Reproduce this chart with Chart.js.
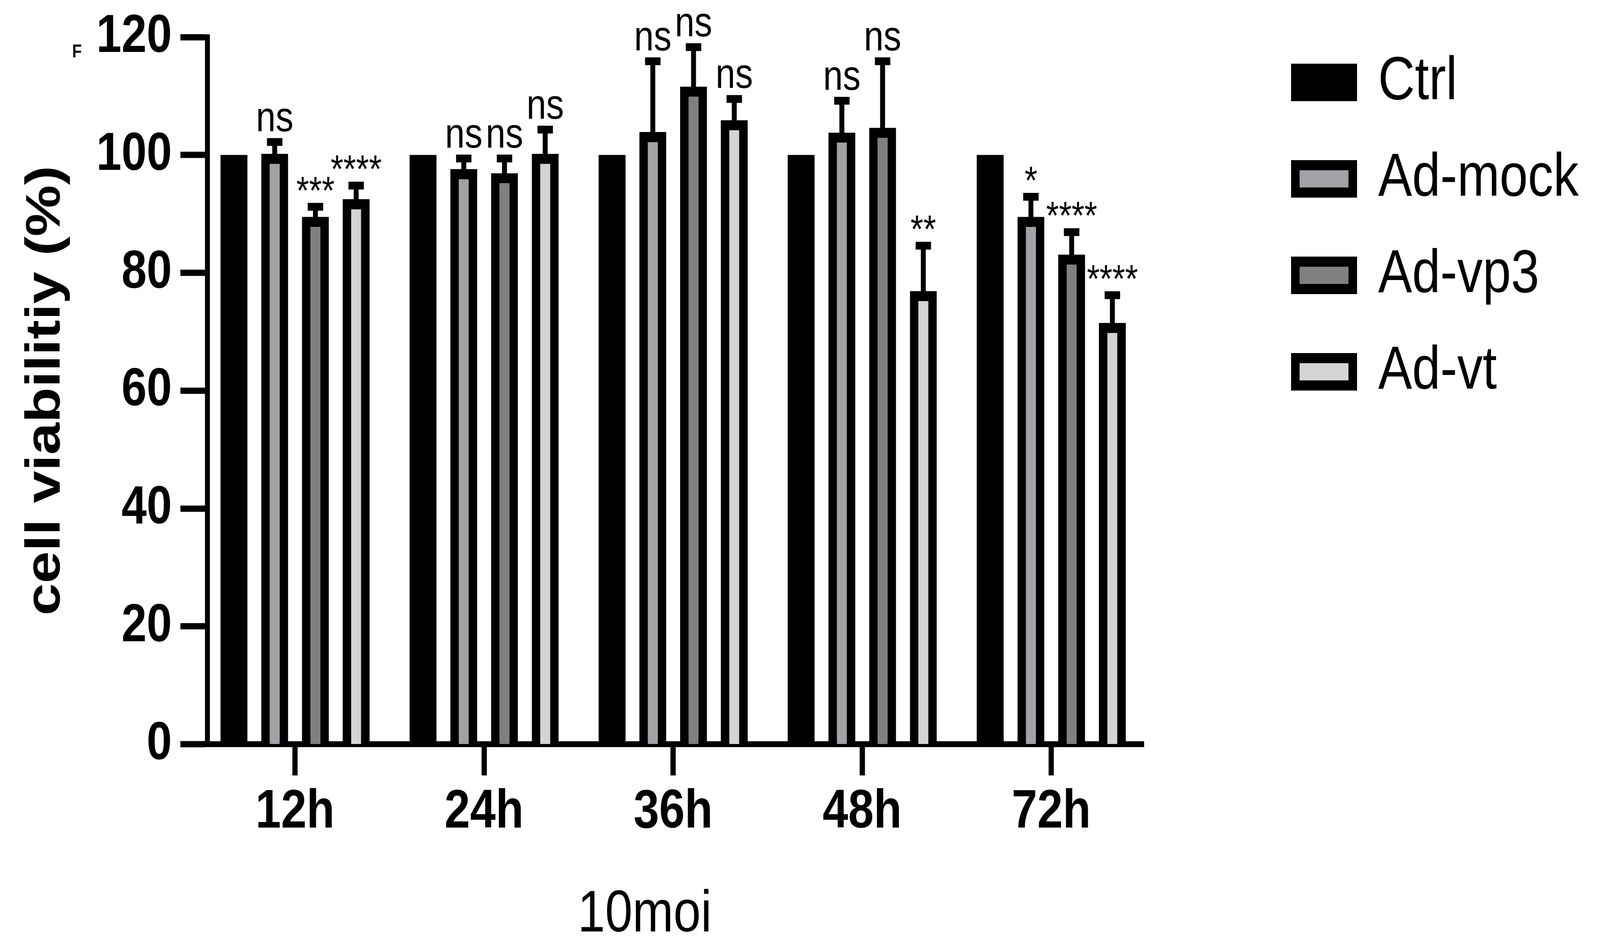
<!DOCTYPE html>
<html><head><meta charset="utf-8">
<script src="https://cdn.jsdelivr.net/npm/chart.js@4.4.1/dist/chart.umd.min.js"></script>
<style>
html,body{margin:0;padding:0;background:#fff;overflow:hidden}
#wrap{position:relative;overflow:hidden}
#c{position:absolute;left:0;top:0;transform-origin:0 0}
</style>
</head><body><div id="wrap"><canvas id="c" width="4879" height="2412"></canvas></div>
<script>
// ---- data ----
const categories = ['12h', '24h', '36h', '48h', '72h'];
const seriesNames = ['Ctrl', 'Ad-mock', 'Ad-vp3', 'Ad-vt'];
const ctrlValues = [100, 100, 100, 100, 100];
const mockValues = [100.2, 97.6, 103.9, 103.8, 89.5];
const vp3Values  = [89.5, 96.9, 111.6, 104.6, 83.1];
const vtValues   = [92.5, 100.2, 105.9, 76.9, 71.5];
const ctrlErr = [0, 0, 0, 0, 0];
const mockErr = [2.0, 1.8, 12.0, 5.4, 3.4];
const vp3Err  = [1.7, 2.5, 6.7, 11.3, 3.8];
const vtErr   = [2.3, 4.1, 3.6, 7.7, 4.7];
const ctrlSig = ['', '', '', '', ''];
const mockSig = ['ns', 'ns', 'ns', 'ns', '*'];
const vp3Sig  = ['***', 'ns', 'ns', 'ns', '****'];
const vtSig   = ['****', 'ns', 'ns', '**', '****'];
const yTickValues = [0, 20, 40, 60, 80, 100, 120];
const yAxisTitle = 'cell viabilitiy (%)';
const xAxisTitle = '10moi';
const panelLetter = 'F';

const valueSets = [ctrlValues, mockValues, vp3Values, vtValues];
const errSets = [ctrlErr, mockErr, vp3Err, vtErr];
const sigSets = [ctrlSig, mockSig, vp3Sig, vtSig];
const fills = ['#000000', '#a2a1a6', '#808080', '#d4d4d4'];
const borderWidths = [0, 26, 26, 26];

// design size 4879 x 2412; fit the canvas to the real viewport
const DW = 4879, DH = 2412;
const VW = window.innerWidth || DW, VH = window.innerHeight || DH;
const wrap = document.getElementById('wrap');
wrap.style.width = VW + 'px'; wrap.style.height = VH + 'px';
const cv = document.getElementById('c');
cv.style.width = DW + 'px'; cv.style.height = DH + 'px';
cv.style.transform = 'scale(' + (VW / DW) + ',' + (VH / DH) + ')';

const FAMILY = '"Liberation Sans", Arial, Helvetica, sans-serif';
Chart.defaults.font.family = FAMILY;
Chart.defaults.color = '#000';

const datasets = seriesNames.map((name, di) => ({
  label: name,
  data: valueSets[di].map((v, i) => ({ x: i, y: v })),
  backgroundColor: fills[di],
  borderColor: '#000000',
  borderWidth: borderWidths[di],
  categoryPercentage: 0.8617,
  barPercentage: 0.66
}));

const legendFont = 155;
const legendPad = 92;

const overlay = {
  id: 'overlay',
  afterLayout(chart) {
    const lg = chart.legend;
    if (lg) {
      const w = lg.width, h = lg.height;
      lg.left = 3950 - legendPad; lg.right = lg.left + w;
      lg.top = 211 - legendFont / 2 - legendPad; lg.bottom = lg.top + h;
    }
  },
  afterDatasetsDraw(chart) {
    const ctx = chart.ctx;
    const ys = chart.scales.y;
    ctx.save();
    ctx.fillStyle = '#000';
    datasets.forEach((ds, di) => {
      const meta = chart.getDatasetMeta(di);
      meta.data.forEach((bar, i) => {
        const v = valueSets[di][i];
        const e = errSets[di][i];
        const base = ys.getPixelForValue(v);
        const top = ys.getPixelForValue(v + e);
        if (e > 0) {
          ctx.fillRect(bar.x - 7.5, top, 15, base - top + 2);
          ctx.fillRect(bar.x - 23.5, top - 10, 47, 20);
        }
        const s = sigSets[di][i];
        if (s) {
          ctx.textAlign = 'center';
          ctx.textBaseline = 'alphabetic';
          if (s.indexOf('*') >= 0) {
            ctx.font = '100px ' + FAMILY;
            ctx.fillText(s, bar.x, top - 8);
          } else {
            ctx.font = '108px ' + FAMILY;
            ctx.fillText(s, bar.x, top - 28);
          }
        }
      });
    });
    ctx.textAlign = 'center';
    ctx.textBaseline = 'alphabetic';
    ctx.font = '150px ' + FAMILY;
    ctx.fillText(xAxisTitle, 1966, 2385);
    ctx.textAlign = 'left';
    ctx.font = 'bold 48px ' + FAMILY;
    ctx.fillText(panelLetter, 220, 147);
    ctx.restore();
  }
};

new Chart(cv, {
  type: 'bar',
  data: { datasets },
  plugins: [overlay],
  options: {
    responsive: false,
    devicePixelRatio: 1,
    animation: false,
    layout: { padding: { top: 90.5, right: 1390.5, bottom: 0, left: 0 } },
    plugins: {
      tooltip: { enabled: false },
      legend: {
        display: true,
        position: 'chartArea',
        align: 'start',
        labels: {
          boxWidth: 175,
          boxHeight: 70,
          padding: legendPad,
          color: '#000',
          font: { size: legendFont, family: FAMILY },
          generateLabels: (chart) => {
            const items = Chart.defaults.plugins.legend.labels.generateLabels(chart);
            items.forEach(it => { it.lineWidth = 26; it.strokeStyle = '#000'; });
            return items;
          }
        }
      }
    },
    scales: {
      x: {
        type: 'linear',
        offset: false,
        bounds: 'data',
        min: -0.4644,
        max: 4.4905,
        afterBuildTicks: (s) => { s.ticks = categories.map((c, i) => ({ value: i })); },
        afterFit: (s) => { s.height = 506.5; },
        ticks: {
          callback: (v) => categories[Math.round(v)],
          font: { size: 140, weight: 'bold', lineHeight: 1 },
          color: '#000',
          padding: 25,
          maxRotation: 0,
          autoSkip: false
        },
        grid: { display: true, drawOnChartArea: false, drawTicks: true, tickLength: 80, tickWidth: 16, tickColor: '#000', offset: false },
        border: { display: true, width: 15, color: '#000' },
        title: { display: false }
      },
      y: {
        type: 'linear',
        min: 0,
        max: 120,
        afterBuildTicks: (s) => { s.ticks = yTickValues.map(v => ({ value: v })); },
        afterFit: (s) => { s.width = 632; },
        ticks: {
          font: { size: 138, weight: 'bold', lineHeight: 1 },
          color: '#000',
          padding: 26
        },
        grid: { display: true, drawOnChartArea: false, drawTicks: true, tickLength: 82, tickWidth: 16, tickColor: '#000' },
        border: { display: true, width: 15, color: '#000' },
        title: {
          display: true,
          text: yAxisTitle,
          color: '#000',
          font: { size: 148, weight: 'bold', lineHeight: 1 },
          padding: { top: 67, bottom: 0 }
        }
      }
    }
  }
});
</script>
</body></html>
